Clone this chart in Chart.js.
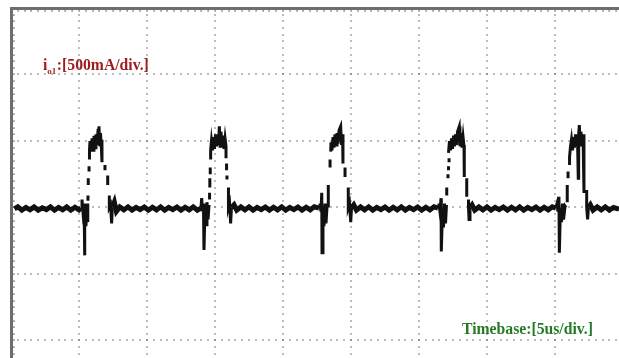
<!DOCTYPE html>
<html>
<head>
<meta charset="utf-8">
<script src="https://cdn.jsdelivr.net/npm/chart.js@4"></script>
<style>
  html, body { margin: 0; padding: 0; background: #fff; overflow: hidden; }
  canvas { display: block; }
</style>
</head>
<body>
<canvas id="scope" width="619" height="358"></canvas>
<script>
// Screen scaling: 5 us per horizontal division, 500 mA per vertical division, 0 A on the centre line.
const timeDivsUs = [5, 10, 15, 20, 25, 30, 35, 40];
const currentDivsA = [1.0, 0.5, 0, -0.5, -1.0];
const channelLabel = ['i', 'o1', ':[500mA/div.]'];
const timebaseLabel = 'Timebase:[5us/div.]';

// i_o1 between the pulses, [time us, current A]; null ends a stretch
const idleTrace = [
  [0.25,-0.01],[0.5,0.005],[0.8,-0.02],[1.1,0.0],[1.4,-0.018],[1.7,0.004],[2.0,-0.02],[2.3,-0.002],[2.6,-0.016],[2.9,0.005],[3.2,-0.02],[3.5,0.0],[3.8,-0.018],[4.1,0.004],[4.4,-0.02],[4.7,0.002],[5.0,-0.018],[5.15,-0.005], null,
  [7.45,0.00],[7.6,0.04],[7.75,-0.03],[8.0,0.004],[8.3,-0.018],[8.6,0.005],[8.9,-0.02],[9.2,0.0],[9.5,-0.016],[9.8,0.004],[10.1,-0.02],[10.4,0.002],[10.7,-0.018],[11.0,0.005],[11.3,-0.02],[11.6,0.0],[11.9,-0.016],[12.2,0.004],[12.5,-0.02],[12.8,0.002],[13.1,-0.018],[13.4,0.005],[13.7,-0.02],[13.97,-0.005], null,
  [16.21,0.00],[16.4,0.02],[16.6,-0.02],[16.9,0.004],[17.2,-0.018],[17.5,0.005],[17.8,-0.02],[18.1,0.0],[18.4,-0.016],[18.7,0.004],[19.0,-0.02],[19.3,0.002],[19.6,-0.018],[19.9,0.005],[20.2,-0.02],[20.5,0.0],[20.8,-0.016],[21.1,0.004],[21.4,-0.02],[21.7,0.002],[22.0,-0.018],[22.3,0.005],[22.65,-0.005], null,
  [25.04,0.00],[25.2,0.02],[25.4,-0.02],[25.7,0.004],[26.0,-0.018],[26.3,0.005],[26.6,-0.02],[26.9,0.0],[27.2,-0.016],[27.5,0.004],[27.8,-0.02],[28.1,0.002],[28.4,-0.018],[28.7,0.005],[29.0,-0.02],[29.3,0.0],[29.6,-0.016],[29.9,0.004],[30.2,-0.02],[30.5,0.002],[30.8,-0.018],[31.1,0.005],[31.40,-0.005], null,
  [33.75,0.00],[33.9,0.02],[34.1,-0.02],[34.4,0.004],[34.7,-0.018],[35.0,0.005],[35.3,-0.02],[35.6,0.0],[35.9,-0.016],[36.2,0.004],[36.5,-0.02],[36.8,0.002],[37.1,-0.018],[37.4,0.005],[37.7,-0.02],[38.0,0.0],[38.3,-0.016],[38.6,0.004],[38.9,-0.02],[39.2,0.002],[39.5,-0.018],[39.8,0.005],[40.07,-0.005], null,
  [42.46,0.00],[42.6,0.02],[42.8,-0.02],[43.1,0.004],[43.4,-0.018],[43.7,0.005],[44.0,-0.02],[44.3,0.0],[44.71,-0.012]
];

// Current pulses, [time us, current A]; null marks a break between sampled strokes
const pulse1 = [
  [5.15,0.00],[5.22,0.06],[5.29,-0.03],[5.37,0.03],[5.40,-0.36],[5.44,-0.05],[5.51,-0.14],[5.59,0.03],[5.63,-0.11],[5.66,0.02], null,
  [5.66,0.05],[5.66,0.09], null, [5.68,0.17],[5.68,0.22], null, [5.74,0.27],[5.74,0.31], null,
  [5.77,0.36],[5.77,0.43],[5.81,0.50],[5.88,0.42],[5.96,0.52],[6.03,0.43],[6.10,0.54],[6.18,0.45],[6.25,0.55],[6.32,0.47],[6.40,0.58],[6.47,0.61],[6.52,0.46],[6.58,0.56],[6.65,0.44],[6.69,0.51],[6.69,0.34], null,
  [6.91,0.32],[6.91,0.28], null, [7.11,0.24],[7.11,0.17], null,
  [7.23,0.09],[7.23,0.00],[7.32,0.02],[7.40,-0.12],[7.45,0.00]
];
const pulse2 = [
  [13.97,0.00],[14.02,0.07],[14.08,-0.03],[14.15,0.03],[14.19,-0.32],[14.26,-0.03],[14.34,-0.13],[14.41,0.04],[14.49,-0.09],[14.56,0.02], null,
  [14.60,0.06],[14.60,0.11], null, [14.62,0.15],[14.62,0.22], null, [14.65,0.25],[14.65,0.30], null,
  [14.68,0.36],[14.68,0.43],[14.74,0.50],[14.82,0.43],[14.89,0.53],[14.96,0.44],[15.04,0.55],[15.11,0.46],[15.18,0.55],[15.26,0.47],[15.32,0.61],[15.37,0.46],[15.44,0.57],[15.51,0.45],[15.59,0.54],[15.66,0.44],[15.74,0.52],[15.81,0.46],[15.81,0.37], null,
  [15.85,0.33],[15.85,0.28], null, [15.88,0.24],[15.88,0.21], null,
  [15.99,0.15],[15.99,0.00],[16.07,0.03],[16.15,-0.12],[16.21,0.00]
];
const pulse3 = [
  [22.65,0.00],[22.72,0.03],[22.79,-0.03],[22.85,0.11],[22.87,-0.34],[22.94,0.00],[23.01,-0.14],[23.09,0.03],[23.16,-0.12],[23.24,0.01], null,
  [23.33,0.00],[23.33,0.17], null, [23.46,0.30],[23.46,0.36], null,
  [23.51,0.42],[23.53,0.49],[23.60,0.43],[23.68,0.53],[23.75,0.45],[23.82,0.55],[23.90,0.47],[23.97,0.56],[24.04,0.48],[24.12,0.58],[24.24,0.61],[24.30,0.47],[24.38,0.55],[24.41,0.46],[24.41,0.33], null,
  [24.56,0.30],[24.56,0.23], null,
  [24.80,0.15],[24.80,0.00],[24.89,0.03],[24.98,-0.11],[25.04,0.00]
];
const pulse4 = [
  [31.40,0.00],[31.47,0.03],[31.54,-0.03],[31.62,0.07],[31.64,-0.33],[31.73,-0.02],[31.80,-0.15],[31.88,0.03],[31.95,-0.12],[32.02,0.02], null,
  [32.04,0.09],[32.04,0.15], null, [32.13,0.22],[32.13,0.25], null, [32.17,0.28],[32.17,0.31], null, [32.21,0.34],[32.21,0.37], null,
  [32.17,0.41],[32.24,0.50],[32.32,0.43],[32.39,0.52],[32.46,0.44],[32.54,0.54],[32.61,0.46],[32.68,0.55],[32.76,0.47],[32.83,0.57],[32.96,0.61],[33.01,0.46],[33.09,0.56],[33.16,0.45],[33.24,0.53],[33.31,0.46],[33.33,0.47],[33.33,0.23], null,
  [33.51,0.22],[33.51,0.08], null,
  [33.64,0.06],[33.64,0.00],[33.68,-0.09],[33.75,0.00]
];
const pulse5 = [
  [40.07,0.00],[40.15,0.03],[40.22,-0.03],[40.29,0.08],[40.32,-0.34],[40.40,0.00],[40.48,-0.11],[40.55,0.03],[40.63,-0.09],[40.74,0.01],[40.81,0.00], null,
  [40.90,0.04],[40.90,0.17], null, [40.96,0.22],[40.96,0.27], null,
  [41.07,0.32],[41.07,0.38],[41.14,0.46],[41.21,0.51],[41.29,0.43],[41.36,0.53],[41.43,0.45],[41.51,0.55],[41.58,0.47],[41.65,0.55],[41.71,0.22],[41.74,0.55],[41.79,0.62],[41.84,0.47],[41.91,0.57],[41.99,0.46],[42.06,0.55],[42.13,0.47],[42.13,0.12],[42.33,0.12],[42.33,0.00],[42.40,-0.09],[42.46,0.00]
];

const X_MIN = 0, X_MAX = 44.706;     // visible time window, us
const Y_MIN = -1.1316, Y_MAX = 1.5;  // visible current window, A

function toPoints(pairs) {
  const out = [];
  let lastX = 0;
  for (const p of pairs) {
    if (p === null) { out.push({ x: lastX, y: null }); }
    else { lastX = p[0]; out.push({ x: p[0], y: p[1] }); }
  }
  return out;
}
const pulses = [].concat(pulse1, [null], pulse2, [null], pulse3, [null], pulse4, [null], pulse5);

// Dotted graticule, frame with sub-division marks, and the channel / timebase captions
const graticule = {
  id: 'graticule',
  beforeDatasetsDraw(chart) {
    const { ctx, chartArea: a, scales: { x, y } } = chart;
    ctx.save();
    ctx.fillStyle = 'rgba(85,85,85,0.8)';
    const dot = 1.4;
    for (const t of timeDivsUs) {
      const px = Math.round(x.getPixelForValue(t)) - 0.7;
      for (let k = Math.ceil(Y_MIN / 0.05); k * 0.05 <= Y_MAX; k++) {
        const py = y.getPixelForValue(k * 0.05);
        if (py < a.top + 4) continue;
        ctx.fillRect(px, Math.round(py) - 0.7, dot, dot);
      }
    }
    for (const v of currentDivsA) {
      const py = Math.round(y.getPixelForValue(v)) - 0.7;
      for (let k = 1; k * 0.5 <= X_MAX; k++) {
        const px = x.getPixelForValue(k * 0.5);
        ctx.fillRect(Math.round(px) - 0.7, py, dot, dot);
      }
    }
    // frame: left and top edges
    ctx.fillStyle = '#6e6e6e';
    ctx.fillRect(a.left - 1, a.top - 1, 3, a.bottom - a.top + 1);
    ctx.fillRect(a.left - 1, a.top - 1, a.right - a.left + 1, 3);
    // sub-division marks on the frame
    ctx.fillStyle = '#777';
    for (let k = 1; k * 0.5 <= X_MAX; k++) {
      const px = Math.round(x.getPixelForValue(k * 0.5));
      ctx.fillRect(px - 0.5, a.top + 2, 1.2, 1.8);
    }
    for (let k = Math.ceil(Y_MIN / 0.05); k * 0.05 < Y_MAX; k++) {
      const py = Math.round(y.getPixelForValue(k * 0.05));
      ctx.fillRect(a.left + 2, py - 0.5, 1.8, 1.2);
    }
    ctx.restore();
  },
  afterDatasetsDraw(chart) {
    const { ctx } = chart;
    ctx.save();
    ctx.textBaseline = 'alphabetic';
    ctx.textAlign = 'left';
    const big = 'bold 15.7px "Liberation Serif", "Times New Roman", serif';
    const small = 'bold 9px "Liberation Serif", "Times New Roman", serif';
    ctx.fillStyle = '#9c1c1f';
    let cx = 43;
    ctx.font = big;  ctx.fillText(channelLabel[0], cx, 70); cx += ctx.measureText(channelLabel[0]).width;
    ctx.font = small; ctx.fillText(channelLabel[1], cx, 73.5); cx += ctx.measureText(channelLabel[1]).width + 0.5;
    ctx.font = big;  ctx.fillText(channelLabel[2], cx, 70);
    ctx.fillStyle = '#257a25';
    ctx.font = big;
    ctx.fillText(timebaseLabel, 462, 334);
    ctx.restore();
  }
};

new Chart(document.getElementById('scope'), {
  type: 'line',
  data: {
    datasets: [
      {
        label: 'i_o1 idle',
        data: toPoints(idleTrace),
        borderColor: '#111',
        borderWidth: 5,
        pointRadius: 0,
        tension: 0,
        spanGaps: false
      },
      {
        label: 'i_o1 pulses',
        data: toPoints(pulses),
        borderColor: '#111',
        borderWidth: 3,
        pointRadius: 0,
        tension: 0,
        spanGaps: false
      }
    ]
  },
  options: {
    responsive: false,
    animation: false,
    events: [],
    layout: { padding: { left: 11, top: 8, right: 0, bottom: 0 } },
    plugins: { legend: { display: false }, tooltip: { enabled: false } },
    scales: {
      x: { type: 'linear', min: X_MIN, max: X_MAX, display: false },
      y: { type: 'linear', min: Y_MIN, max: Y_MAX, display: false }
    }
  },
  plugins: [graticule]
});
</script>
</body>
</html>
